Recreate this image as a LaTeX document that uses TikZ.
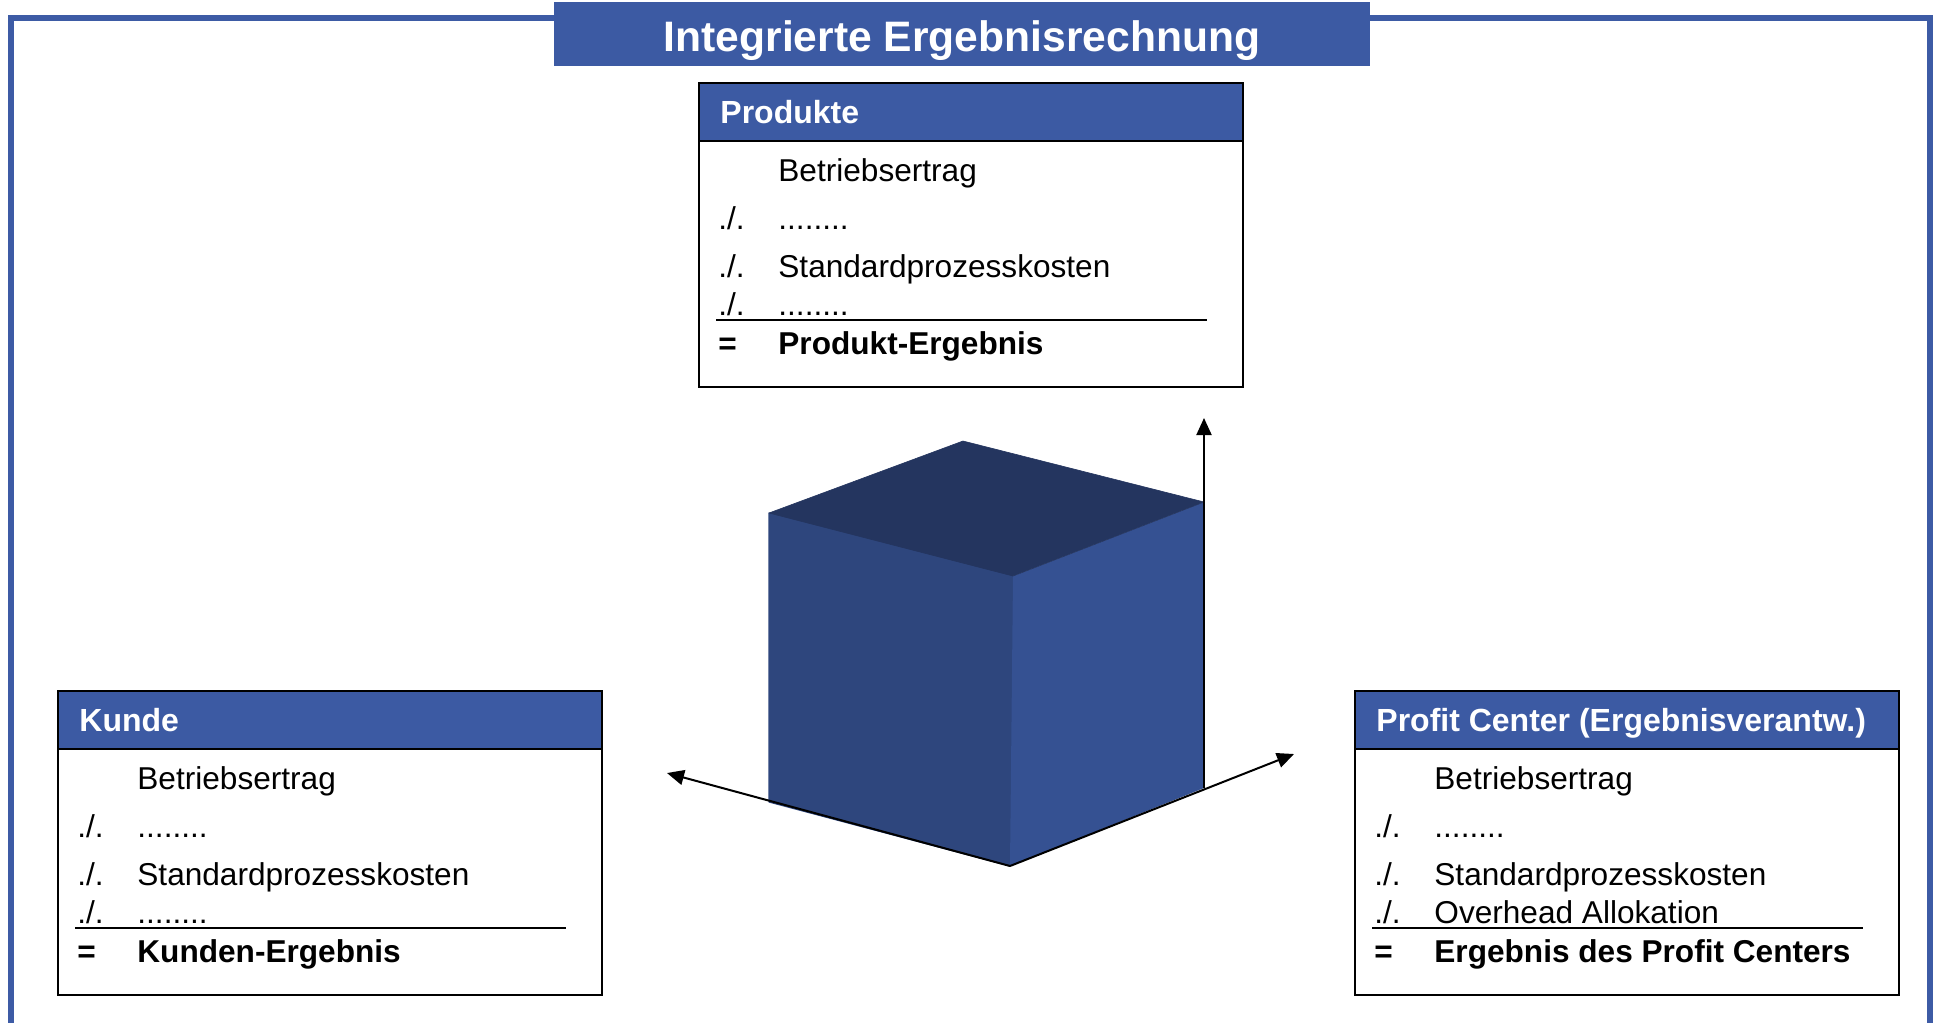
\documentclass[tikz,border=0pt]{standalone}
\usepackage{fontspec}
\setmainfont{Liberation Sans}
\usetikzlibrary{arrows.meta}
\definecolor{hblue}{HTML}{3C5AA3}
\definecolor{frameblue}{HTML}{3D5BA5}
\definecolor{ctop}{HTML}{24355F}
\definecolor{cleft}{HTML}{2E467D}
\definecolor{cright}{HTML}{355192}
\begin{document}
\begin{tikzpicture}[x=0.5pt,y=-0.5pt,
  bodytxt/.style={anchor=base west,inner sep=0pt,font=\fontsize{15.8pt}{18pt}\selectfont},
  boldtxt/.style={anchor=base west,inner sep=0pt,font=\fontsize{15.8pt}{18pt}\selectfont\bfseries},
  hdrtxt/.style={anchor=base west,inner sep=0pt,text=white,font=\fontsize{16pt}{19pt}\selectfont\bfseries},
  boxframe/.style={draw=black,line width=1pt},
  hdrline/.style={draw=black,line width=1.4pt},
  sumline/.style={draw=black,line width=1.3pt},
  thinsum/.style={draw=black,line width=0.9pt},
  axis/.style={draw=black,line width=1pt,-{Triangle[length=8.5pt,width=7.5pt]}}
]
\useasboundingbox (0,0) rectangle (1939,1023);
\fill[white] (0,0) rectangle (1939,1023);
% outer frame (bottom edge lies below the page)
\draw[frameblue,line width=2.8pt] (11,18) rectangle (1930,1060);
% title
\node[fill=hblue,inner sep=0pt,minimum width=408pt,minimum height=32pt,anchor=north west] (titlebox) at (554,2) {};
\node[anchor=base,inner sep=0pt,text=white,font=\fontsize{21.3pt}{25pt}\selectfont\bfseries] (title) at (962,51) {Integrierte Ergebnisrechnung};

% Produkte box
\begin{scope}[shift={(699,83)}]
  \fill[hblue] (0,0) rectangle (544,58);
  \draw[hdrline] (0,58) -- (544,58);
  \draw[boxframe] (0,0) rectangle (544,304);
  \node[hdrtxt] (p-hdr) at (21,40.5) {Produkte};
  \node[bodytxt] (p-r1) at (79,98) {Betriebsertrag};
  \node[bodytxt] (p-m2) at (19,146) {./.};
  \node[bodytxt] (p-r2) at (79,146) {........};
  \node[bodytxt] (p-m3) at (19,194) {./.};
  \node[bodytxt] (p-r3) at (79,194) {Standardprozesskosten};
  \node[bodytxt] (p-m4) at (19,232) {./.};
  \node[bodytxt] (p-r4) at (79,232) {........};
  \draw[sumline] (17,237) -- (508,237);
  \node[boldtxt] (p-m5) at (19,271) {=};
  \node[boldtxt] (p-r5) at (79,271) {Produkt-Ergebnis};
\end{scope}

% Kunde box
\begin{scope}[shift={(58,691)}]
  \fill[hblue] (0,0) rectangle (544,58);
  \draw[hdrline] (0,58) -- (544,58);
  \draw[boxframe] (0,0) rectangle (544,304);
  \node[hdrtxt] (k-hdr) at (21,40.5) {Kunde};
  \node[bodytxt] (k-r1) at (79,98) {Betriebsertrag};
  \node[bodytxt] (k-m2) at (19,146) {./.};
  \node[bodytxt] (k-r2) at (79,146) {........};
  \node[bodytxt] (k-m3) at (19,194) {./.};
  \node[bodytxt] (k-r3) at (79,194) {Standardprozesskosten};
  \node[bodytxt] (k-m4) at (19,232) {./.};
  \node[bodytxt] (k-r4) at (79,232) {........};
  \draw[sumline] (17,237) -- (508,237);
  \node[boldtxt] (k-m5) at (19,271) {=};
  \node[boldtxt] (k-r5) at (79,271) {Kunden-Ergebnis};
\end{scope}

% Profit Center box
\begin{scope}[shift={(1355,691)}]
  \fill[hblue] (0,0) rectangle (544,58);
  \draw[hdrline] (0,58) -- (544,58);
  \draw[boxframe] (0,0) rectangle (544,304);
  \node[hdrtxt] (pc-hdr) at (21,40.5) {Profit Center (Ergebnisverantw.)};
  \node[bodytxt] (pc-r1) at (79,98) {Betriebsertrag};
  \node[bodytxt] (pc-m2) at (19,146) {./.};
  \node[bodytxt] (pc-r2) at (79,146) {........};
  \node[bodytxt] (pc-m3) at (19,194) {./.};
  \node[bodytxt] (pc-r3) at (79,194) {Standardprozesskosten};
  \node[bodytxt] (pc-m4) at (19,232) {./.};
  \node[bodytxt] (pc-r4) at (79,232) {Overhead Allokation};
  \draw[thinsum] (17,237) -- (508,237);
  \node[boldtxt] (pc-m5) at (19,271) {=};
  \node[boldtxt] (pc-r5) at (79,271) {Ergebnis des Profit Centers};
\end{scope}

% cube
\coordinate (bt) at (963,441);
\coordinate (lt) at (769,513);
\coordinate (rt) at (1204,502);
\coordinate (ft) at (1013,576);
\coordinate (lb) at (769,802);
\coordinate (fb) at (1010,866);
\coordinate (rb) at (1204,788);
\filldraw[fill=cleft,draw=cleft,line width=0.6pt,line join=round] (lt) -- (ft) -- (fb) -- (lb) -- cycle;
\fill[cright] (ft) -- (rt) -- (rb) -- (fb) -- cycle;
\filldraw[fill=ctop,draw=ctop,line width=0.3pt,line join=round] (bt) -- (rt) -- (ft) -- (lt) -- cycle;

% axes
\coordinate (orig) at (1010,866);
\coordinate (axl) at (667,773);
\coordinate (axr) at (1294,754);
\coordinate (axvb) at (1204,788);
\coordinate (axvt) at (1204,418);
\draw[axis] (orig) -- (axl);
\draw[axis] (orig) -- (axr);
\draw[axis] (axvb) -- (axvt);
\end{tikzpicture}
\end{document}
